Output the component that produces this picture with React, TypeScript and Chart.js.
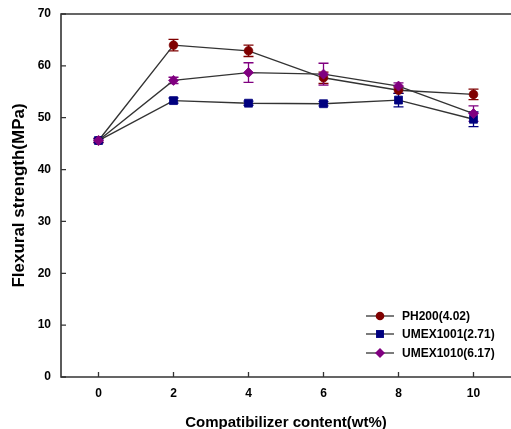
import React, { useEffect, useRef } from "react";
import { Chart, registerables } from "chart.js";

Chart.register(...registerables);

const xValues = [0, 2, 4, 6, 8, 10];
const yTicks = [0, 10, 20, 30, 40, 50, 60, 70];
const ph200 = [45.6, 64.0, 62.9, 57.7, 55.3, 54.5];
const ph200Err = [0.4, 1.1, 1.1, 1.1, 0.6, 1.0];
const umex1001 = [45.6, 53.3, 52.8, 52.7, 53.4, 49.7];
const umex1001Err = [0.3, 0.5, 0.4, 0.4, 1.3, 1.4];
const umex1010 = [45.6, 57.2, 58.7, 58.4, 56.1, 50.8];
const umex1010Err = [0.4, 0.6, 1.9, 2.1, 0.6, 1.5];
const seriesNames = ["PH200(4.02)", "UMEX1001(2.71)", "UMEX1010(6.17)"];
const xTitle = "Compatibilizer content(wt%)";
const yTitle = "Flexural strength(MPa)";

const FONT = "'Liberation Sans', Arial, sans-serif";
const colors = ["#7f0000", "#00007f", "#800080"];
const shapes = ["circle", "rect", "rectRot"];
const radii = [4.3, 5.6, 5];
const orders = [2, 1, 0];
const errs = [ph200Err, umex1001Err, umex1010Err];

function drawMarker(ctx: any, shape: string, x: number, y: number, r: number, color: string) {
  ctx.save();
  ctx.fillStyle = color;
  ctx.beginPath();
  if (shape === "circle") {
    ctx.arc(x, y, r, 0, Math.PI * 2);
  } else if (shape === "rect") {
    const h = r * Math.SQRT1_2;
    ctx.rect(x - h, y - h, h * 2, h * 2);
  } else {
    ctx.moveTo(x, y - r);
    ctx.lineTo(x + r, y);
    ctx.lineTo(x, y + r);
    ctx.lineTo(x - r, y);
    ctx.closePath();
  }
  ctx.fill();
  ctx.restore();
}

const decorPlugin = {
  id: "decor",
  beforeDatasetsDraw(chart: any) {
    const ctx = chart.ctx;
    const xs = chart.scales.x;
    const ys = chart.scales.y;
    chart.data.datasets.forEach((ds: any, i: number) => {
      const e = errs[i];
      ctx.save();
      ctx.strokeStyle = colors[i];
      ctx.lineWidth = 1.3;
      ds.data.forEach((p: any, j: number) => {
        const px = xs.getPixelForValue(p.x);
        const top = ys.getPixelForValue(p.y + e[j]);
        const bot = ys.getPixelForValue(p.y - e[j]);
        ctx.beginPath();
        ctx.moveTo(px, top);
        ctx.lineTo(px, bot);
        ctx.moveTo(px - 5, top);
        ctx.lineTo(px + 5, top);
        ctx.moveTo(px - 5, bot);
        ctx.lineTo(px + 5, bot);
        ctx.stroke();
      });
      ctx.restore();
    });
  },
  afterDraw(chart: any) {
    const ctx = chart.ctx;
    const a = chart.chartArea;
    const xs = chart.scales.x;
    const ys = chart.scales.y;
    ctx.save();
    ctx.strokeStyle = "#333";
    ctx.lineWidth = 1.6;
    ctx.beginPath();
    ctx.moveTo(a.right + 2, a.top);
    ctx.lineTo(a.left, a.top);
    ctx.lineTo(a.left, a.bottom);
    ctx.lineTo(a.right + 2, a.bottom);
    ctx.stroke();
    ctx.lineWidth = 1.3;
    ctx.beginPath();
    xValues.forEach((v) => {
      const px = xs.getPixelForValue(v);
      ctx.moveTo(px, a.bottom);
      ctx.lineTo(px, a.bottom - 5);
    });
    yTicks.forEach((v) => {
      const py = ys.getPixelForValue(v);
      ctx.moveTo(a.left, py);
      ctx.lineTo(a.left + 5, py);
    });
    ctx.stroke();

    ctx.fillStyle = "#000";
    ctx.font = `bold 15px ${FONT}`;
    ctx.textAlign = "center";
    ctx.textBaseline = "middle";
    ctx.fillText(xTitle, (a.left + a.right) / 2, 423);
    ctx.save();
    ctx.translate(19, (a.top + a.bottom) / 2);
    ctx.rotate(-Math.PI / 2);
    ctx.font = `bold 17px ${FONT}`;
    ctx.fillText(yTitle, 0, 0);
    ctx.restore();

    const lx0 = 366;
    const lx1 = 394;
    const rows = [316, 334, 353];
    ctx.font = `bold 12px ${FONT}`;
    ctx.textAlign = "left";
    ctx.textBaseline = "middle";
    seriesNames.forEach((name, i) => {
      const y = rows[i];
      ctx.strokeStyle = "#333";
      ctx.lineWidth = 1.3;
      ctx.beginPath();
      ctx.moveTo(lx0, y);
      ctx.lineTo(lx1, y);
      ctx.stroke();
      drawMarker(ctx, shapes[i], (lx0 + lx1) / 2, y, radii[i], colors[i]);
      ctx.fillStyle = "#000";
      ctx.fillText(name, 402, y + 1);
    });
    ctx.restore();
  },
};

export default function App() {
  const ref = useRef<HTMLCanvasElement>(null);
  useEffect(() => {
    document.body.style.margin = "0";
    const seriesList = [ph200, umex1001, umex1010];
    const chart = new Chart(ref.current!, {
      type: "line",
      data: {
        datasets: seriesList.map((vals, i) => ({
          label: seriesNames[i],
          data: vals.map((v, j) => ({ x: xValues[j], y: v })),
          order: orders[i],
          borderColor: "#333",
          borderWidth: 1.4,
          pointStyle: shapes[i] as any,
          pointRadius: radii[i],
          pointBackgroundColor: colors[i],
          pointBorderColor: colors[i],
          pointBorderWidth: 0.8,
          tension: 0,
          fill: false,
        })),
      },
      options: {
        animation: false,
        responsive: false,
        layout: { autoPadding: false, padding: { top: 14, right: 0, bottom: 0, left: 0 } },
        plugins: { legend: { display: false }, tooltip: { enabled: false } },
        scales: {
          x: {
            type: "linear",
            min: -1,
            max: 11,
            grid: { display: false, drawTicks: false },
            border: { display: false },
            afterBuildTicks: (s: any) => {
              s.ticks = xValues.map((v) => ({ value: v }));
            },
            afterFit: (s: any) => {
              s.height = 52;
              s.paddingLeft = 0;
              s.paddingRight = 0;
            },
            ticks: {
              color: "#000",
              padding: 9,
              maxRotation: 0,
              font: { family: FONT, size: 12, weight: "bold" },
            },
          },
          y: {
            min: 0,
            max: 70,
            grid: { display: false, drawTicks: false },
            border: { display: false },
            afterBuildTicks: (s: any) => {
              s.ticks = yTicks.map((v) => ({ value: v }));
            },
            afterFit: (s: any) => {
              s.width = 61;
              s.paddingTop = 0;
              s.paddingBottom = 0;
            },
            ticks: {
              color: "#000",
              padding: 10,
              font: { family: FONT, size: 12, weight: "bold" },
            },
          },
        },
      },
      plugins: [decorPlugin],
    });
    return () => chart.destroy();
  }, []);
  return <canvas ref={ref} width={511} height={429} style={{ display: "block" }} />;
}
